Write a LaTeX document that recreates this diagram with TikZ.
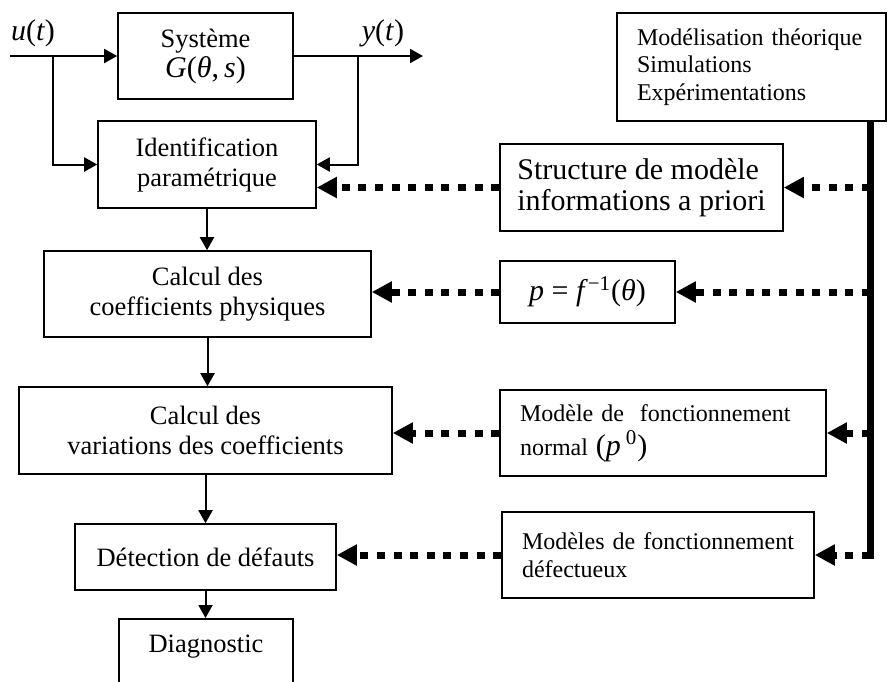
\documentclass[tikz,border=0pt]{standalone}
\usepackage{fontspec}
\setmainfont{Liberation Serif}
\usetikzlibrary{arrows.meta}
\newcommand{\boxfont}{\fontsize{13.25}{15}\selectfont}
\newcommand{\notefont}{\fontsize{12}{13.75}\selectfont}
\newcommand{\bigfont}{\fontsize{15}{15.5}\selectfont}
\newcommand{\mv}[1]{\textit{#1}}
\begin{document}
\begin{tikzpicture}[
    x=0.5pt, y=-0.5pt,
    blk/.style={draw, line width=0.8pt, align=center, inner sep=0pt, font=\boxfont},
    note/.style={draw, line width=0.8pt, align=left, inner xsep=10pt, inner ysep=0pt, font=\notefont},
    sig/.style={line width=1pt, -{Triangle[length=6.5pt,width=7pt]}},
    info/.style={line width=3.5pt, dash pattern=on 4pt off 4.3pt, -{Triangle[length=10pt,width=10pt]}},
    bus/.style={line width=3.5pt}
  ]
  \useasboundingbox (0,0) rectangle (888,681);
  % main chain
  \node[blk, minimum width=87.5pt, minimum height=43pt] (sys) at (205.5,56) {Système\\{\bigfont\mv{G}(\mv{θ},\,\mv{s})}};
  \node[blk, minimum width=109pt, minimum height=43.5pt] (ident) at (207,164.5) {Identification\\paramétrique};
  \node[blk, minimum width=163.5pt, minimum height=43pt] (coef) at (207.5,294) {Calcul des\\coefficients physiques};
  \node[blk, minimum width=186.5pt, minimum height=43.5pt] (var) at (205.5,430.5) {Calcul des\\variations des coefficients};
  \node[blk, minimum width=130.5pt, minimum height=33pt] (detect) at (205.5,557) {Détection de défauts};
  \node[blk, anchor=north, minimum width=87pt, inner ysep=4pt, text height=13pt, text depth=30pt] (diag) at (206,618) {Diagnostic};
  % knowledge side
  \node[note, text width=114.5pt, minimum height=54pt] (model) at (751.5,67) {Modélisation théorique\\Simulations\\Expérimentations};
  \node[blk, font=\bigfont, align=left, minimum width=141.5pt, minimum height=43.5pt] (struct) at (641.5,187.5) {Structure de modèle\\informations a priori};
  \node[blk, font=\bigfont, minimum width=87.5pt, minimum height=31pt] (finv) at (587.5,292) {\mv{p} = \mv{f}\textsuperscript{−1}(\mv{θ})};
  \node[note, text width=143pt, minimum height=43pt] (normal) at (663,433) {Modèle de\ \ fonctionnement\\[3pt]normal\ {\bigfont(\mv{p}\,\textsuperscript{0})}};
  \node[note, text width=136pt, minimum height=43pt] (defect) at (658,555) {Modèles de fonctionnement\\défectueux};
  % signals
  \node[font=\bigfont] (ulab) at (33,33) {\mv{u}(\mv{t})};
  \node[font=\bigfont] (ylab) at (383,33) {\mv{y}(\mv{t})};
  \coordinate (uin) at (10,56);
  \coordinate (ubr) at (53,56);
  \coordinate (yout) at (423,56);
  \coordinate (ybr) at (358,56);
  \coordinate (busx) at (870,0);
  \draw[sig] (uin) -- (sys.west);
  \draw[sig] (ubr) |- (ident.west);
  \draw[sig] (sys.east) -- (yout);
  \draw[sig] (ybr) |- (ident.east);
  \draw[sig] (ident.south) -- (ident.south |- coef.north);
  \draw[sig] (coef.south) -- (coef.south |- var.north);
  \draw[sig] (var.south) -- (var.south |- detect.north);
  \draw[sig] (detect.south) -- (detect.south |- diag.north);
  % information flow
  \draw[bus] (busx |- model.south) -- ([yshift=-1.75pt]busx |- defect.east);
  \draw[info] (busx |- struct.east) -- (struct.east);
  \draw[info] (busx |- finv.east) -- (finv.east);
  \draw[info] (busx |- normal.east) -- (normal.east);
  \draw[info] (busx |- defect.east) -- (defect.east);
  \draw[info] (struct.west) -- (struct.west -| ident.east);
  \draw[info] (finv.west) -- (finv.west -| coef.east);
  \draw[info] (normal.west) -- (normal.west -| var.east);
  \draw[info] (defect.west) -- (defect.west -| detect.east);
\end{tikzpicture}
\end{document}
